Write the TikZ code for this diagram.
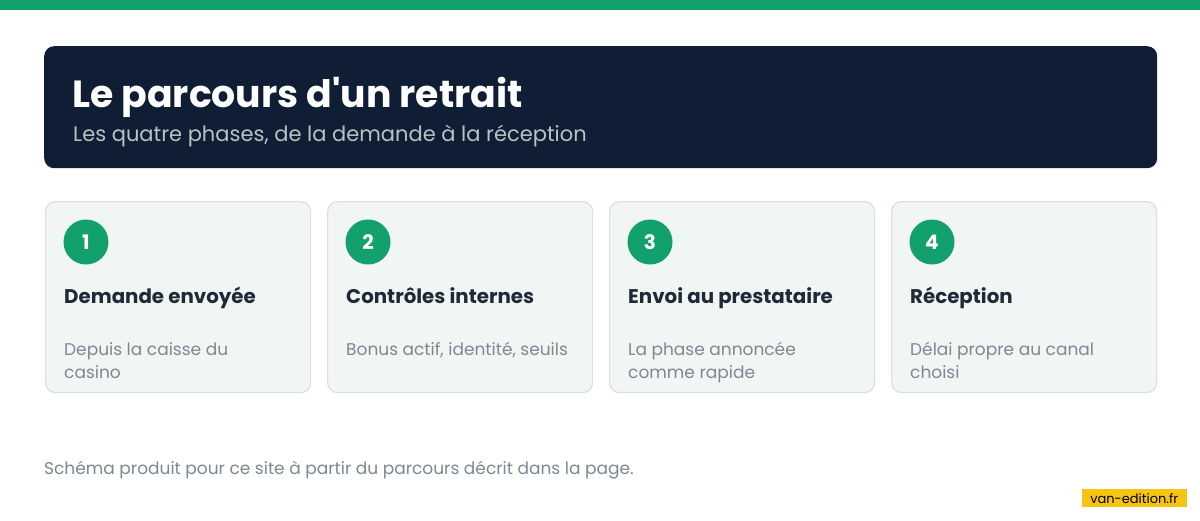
\documentclass[tikz,border=0pt]{standalone}
\usepackage{fontspec}
\setmainfont{Poppins}
\definecolor{brandgreen}{HTML}{12A06C}
\definecolor{navy}{HTML}{0F1E35}
\definecolor{subcol}{HTML}{B3C6C1}
\definecolor{cardfill}{HTML}{F1F5F4}
\definecolor{cardline}{HTML}{D8E1DF}
\definecolor{titlecol}{HTML}{1F2A37}
\definecolor{desccol}{HTML}{7D8893}
\definecolor{badge}{HTML}{F6C513}
\tikzset{
  card/.style={draw=cardline, line width=1.2pt, fill=cardfill, rounded corners=10pt},
  numdot/.style={circle, fill=brandgreen, minimum size=45pt, inner sep=0pt, text=white, font=\fontsize{20}{20}\selectfont\bfseries},
  cardtitle/.style={anchor=base west, inner sep=0pt, text=titlecol, font=\fontsize{19.8}{24}\selectfont\bfseries},
  carddesc/.style={anchor=base west, inner sep=0pt, text=desccol, align=left, font=\fontsize{17}{23}\selectfont},
}
\begin{document}
\begin{tikzpicture}[x=1pt,y=-1pt]
\useasboundingbox (0,0) rectangle (1200,520);
\fill[white] (0,0) rectangle (1200,520);
\fill[brandgreen] (0,0) rectangle (1200,10);
\node[fill=navy, rounded corners=10pt, minimum width=1113pt, minimum height=122pt, anchor=north west, inner sep=0pt] (header) at (44,46) {};
\node[anchor=base west, inner sep=0pt, text=white, font=\fontsize{37.8}{40}\selectfont\bfseries] (title) at (72,107) {Le parcours d\textquotesingle un retrait};
\node[anchor=base west, inner sep=0pt, text=subcol, font=\fontsize{21}{21}\selectfont] (subtitle) at (73,141) {Les quatre phases, de la demande à la réception};
\foreach \i/\x/\t/\d/\b in {1/45/{Demande envoyée}/{Depuis la caisse du\\casino}/378, 2/327/{Contrôles internes}/{Bonus actif, identité, seuils}/355, 3/609/{Envoi au prestataire}/{La phase annoncée\\comme rapide}/378, 4/891/{Réception}/{Délai propre au canal\\choisi}/378}{
  \node[card, minimum width=265pt, minimum height=191pt, anchor=north west, inner sep=0pt] (card\i) at (\x,201) {};
  \node[numdot] (num\i) at (\x+41,242) {\i};
  \node[cardtitle] (ctitle\i) at (\x+19,303) {\t};
  \node[carddesc] (cdesc\i) at (\x+19,\b) {\d};
}
\node[anchor=base west, inner sep=0pt, text=desccol, font=\fontsize{17}{20}\selectfont] (footer) at (44,474) {Schéma produit pour ce site à partir du parcours décrit dans la page.};
\node[fill=badge, anchor=north east, minimum width=105pt, minimum height=18pt, inner sep=0pt, font=\fontsize{13}{13}\selectfont, text=black] (badge) at (1187,489) {van-edition.fr};
\end{tikzpicture}
\end{document}
